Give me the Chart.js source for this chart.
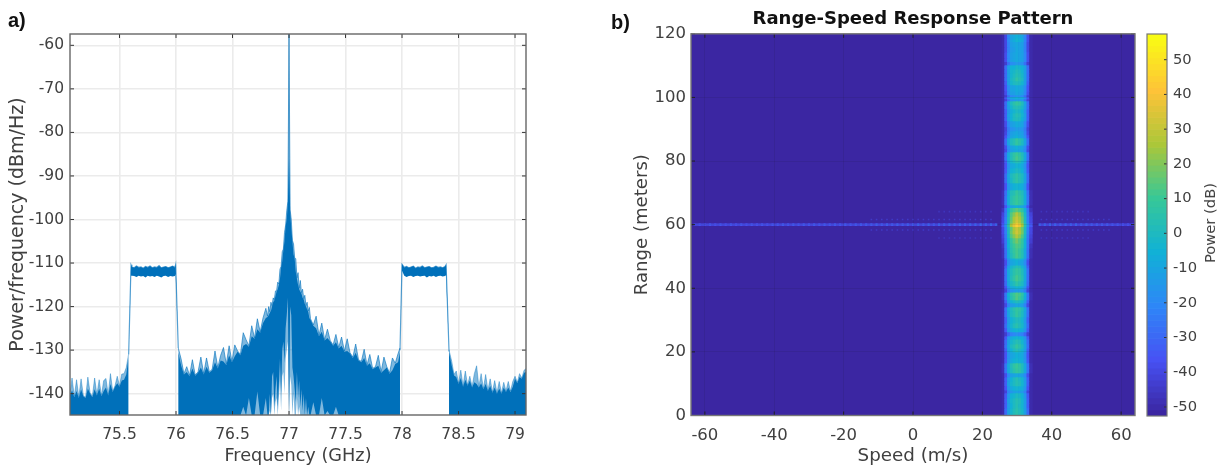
<!DOCTYPE html>
<html><head><meta charset="utf-8">
<style>
html,body{margin:0;padding:0;background:#fff;width:1227px;height:468px;overflow:hidden}
canvas{position:absolute;top:0;filter:blur(.55px)}
.t{position:absolute;white-space:nowrap;color:#111;font-family:"Liberation Sans",sans-serif;font-weight:bold;font-size:20px;line-height:20px}
#pw{color:#404040;font-family:"DejaVu Sans",sans-serif;font-weight:normal;font-size:14.7px;transform:translate(-50%,-50%) rotate(-90deg);left:1210px;top:223px;filter:blur(.4px)}
</style>
<script src="https://cdn.jsdelivr.net/npm/chart.js@4/dist/chart.umd.js"></script>
</head><body>
<canvas id="ca" width="560" height="468" style="left:0;width:560px;height:468px"></canvas>
<canvas id="cb" width="545" height="468" style="left:600px;width:545px;height:468px"></canvas>
<canvas id="cc" width="87" height="468" style="left:1140px;width:87px;height:468px"></canvas>
<div class="t" style="left:8px;top:10px">a)</div>
<div class="t" style="left:611px;top:12px">b)</div>
<div class="t" id="pw">Power (dB)</div>
<script>
// ---------- Panel a: spectrum envelope ----------
const freqTicks=[75.5,76,76.5,77,77.5,78,78.5,79];
const psdTicks=[-60,-70,-80,-90,-100,-110,-120,-130,-140];

const noiseAFreq=[75.06,75.08,75.1,75.12,75.14,75.16,75.18,75.2,75.22,75.24,75.26,75.28,75.3,75.32,75.34,75.36,75.38,75.4,75.42,75.44,75.46,75.48,75.5,75.52,75.54,75.56,75.58];
const noiseAPeak=[-140.3,-136.4,-140.6,-136.8,-140.8,-136.6,-140.4,-140.8,-136.2,-139.8,-140.6,-136.4,-140.2,-136.8,-140.4,-137,-136.5,-140.2,-135.4,-139.4,-138.2,-136,-138.2,-135.5,-135.4,-134,-131];
const noiseACore=[-140.5,-139.2,-140.8,-139.4,-141,-139,-140.6,-141,-138.8,-140,-140.8,-139,-140.4,-138.8,-140.6,-139.4,-138.6,-140.4,-137.8,-139.6,-138.4,-137.6,-138.4,-137,-136.8,-135.6,-131.5];

const bandAFreq=[75.581,75.602,75.61,75.63,75.65,75.67,75.69,75.71,75.73,75.75,75.77,75.79,75.81,75.83,75.85,75.87,75.89,75.91,75.93,75.95,75.97,75.99,75.997,76.02];
const bandAHigh=[-131,-110.4,-110.9,-111.1,-110.7,-111,-110.9,-111.2,-110.8,-111,-110.7,-111.1,-110.9,-111,-110.6,-111.1,-110.9,-110.8,-111.1,-110.9,-110.7,-111,-110.3,-129.5];
const bandALow=[-131,-112,-112.9,-113,-113.2,-112.9,-113.1,-113,-113.3,-112.9,-113.1,-113,-113.2,-112.9,-113.1,-113.3,-113,-112.9,-113.2,-113,-113.1,-113,-112.5,-129.5];

const centerFreq=[
76.02,76.045,76.07,76.095,76.12,76.145,76.17,76.195,76.22,76.245,
76.27,76.295,76.32,76.345,76.37,76.395,76.42,76.445,76.47,76.495,
76.52,76.545,76.57,76.595,76.62,76.645,76.67,76.695,76.72,76.745,
76.77,76.795,
76.81,76.82,76.83,76.84,76.85,76.86,76.87,76.88,76.89,76.9,
76.91,76.92,76.93,76.94,76.95,76.96,76.97,76.98,76.99,77,
77.01,77.02,77.03,77.04,77.05,77.06,77.07,77.08,77.09,77.1,
77.11,77.12,77.13,77.14,77.15,77.16,77.17,77.18,77.19,
77.215,77.24,77.265,77.29,77.315,77.34,77.365,77.39,77.415,77.44,
77.465,77.49,77.515,77.54,77.565,77.59,77.615,77.64,77.665,77.69,
77.715,77.74,77.765,77.79,77.815,77.84,77.865,77.89,77.915,77.94,
77.965,77.982];
const centerPeak=[
-129.5,-132,-135.4,-133.8,-135.8,-132.2,-135.7,-135,-131.6,-135.4,
-131.8,-135,-134.4,-130.2,-134,-131.2,-129.4,-133.2,-129,-132.6,
-128.8,-130.2,-131,-126,-127.6,-129,-124.4,-127.2,-122.8,-125.8,
-122.6,-120.4,
-122.2,-120,-121.2,-119,-119.8,-118,-118.4,-116.4,-116.4,-114.4,
-114.8,-111.4,-110.8,-107.4,-106.8,-103,-101.3,-98,-95.8,-57.4,
-97.8,-100,-104.8,-105.6,-108.8,-109,-113.4,-112.2,-115.8,-114,
-116.8,-116,-118.2,-117.4,-119.8,-119,-121,-120.2,-122.8,
-124.2,-122.2,-126.6,-123.8,-127.6,-125.2,-127.8,-128.8,-126.4,-129.4,
-127,-130.2,-127.4,-130.6,-131.6,-128.6,-132.2,-132.6,-129.8,-133.4,
-131,-134.2,-133.8,-131.2,-135,-131.6,-133.8,-135.2,-131.8,-133,
-130.8,-129.5];
const centerCore=[
-130.5,-133.5,-135.6,-135,-136,-134.2,-135.9,-135.2,-134,-135.6,
-133.8,-135.2,-134.6,-132.8,-134.2,-132.4,-132.6,-133.4,-131.2,-132.8,
-131.4,-130.4,-131.2,-129,-128.6,-129.2,-126.8,-127.4,-125.2,-126,
-123.8,-122.6,
-122.4,-122,-121.4,-121,-120,-119,-118.6,-117.6,-116.6,-116,
-115,-113.6,-111,-109.6,-107,-105,-101.5,-100,-96,-86,
-98,-102,-105,-108,-109,-112,-113.6,-115,-116,-116.6,
-117,-118,-118.4,-119.4,-120,-120.6,-121.2,-122.6,-123,
-124.4,-125,-126.8,-125.8,-127.8,-127.2,-128,-129,-128.2,-129.6,
-129,-130.4,-130.2,-130.8,-131.8,-130.6,-132.4,-132.8,-131.8,-133.6,
-133,-134.4,-134,-133.6,-135.2,-134.6,-134,-135.4,-134.6,-133.2,
-132.8,-130.5];
const centerCoreFloor=[
-145,-145,-145,-145,-145,-145,-145,-145,-145,-145,
-145,-145,-145,-145,-145,-145,-145,-145,-145,-145,
-145,-145,-145,-143,-145,-141,-145,-145,-139.5,-145,
-145,-141,
-145,-145,-140,-145,-136,-135,-143,-139,-136,-143,
-138,-132,-140,-130,-128,-133,-125,-122,-118,-145,
-120,-122,-134,-136,-139,-142,-135,-141,-137,-143,
-139,-144,-140,-145,-141,-145,-143,-145,-145,
-142,-145,-145,-141,-145,-144,-145,-145,-143,-145,
-145,-145,-145,-145,-145,-145,-145,-145,-145,-145,
-145,-145,-145,-145,-145,-145,-145,-145,-145,-145,
-145,-145];
const centerLightFloor=[
-145,-145,-145,-145,-145,-145,-145,-145,-145,-145,
-145,-145,-145,-145,-145,-145,-145,-145,-145,-145,
-145,-145,-145,-145,-145,-145,-145,-145,-145,-145,
-145,-145,
-145,-145,-144,-145,-141,-140,-145,-142,-141,-145,
-141,-137,-144,-136,-135,-140,-132,-130,-128,-145,
-136,-138,-145,-140,-145,-145,-141,-145,-143,-145,
-145,-145,-145,-145,-145,-145,-145,-145,-145,
-145,-145,-145,-145,-145,-145,-145,-145,-145,-145,
-145,-145,-145,-145,-145,-145,-145,-145,-145,-145,
-145,-145,-145,-145,-145,-145,-145,-145,-145,-145,
-145,-145];

const bandBFreq=[77.982,78,78.02,78.04,78.06,78.08,78.1,78.12,78.14,78.16,78.18,78.2,78.22,78.24,78.26,78.28,78.3,78.32,78.34,78.36,78.38,78.39,78.416];
const bandBHigh=[-130,-110.3,-111,-110.8,-111.1,-110.9,-110.7,-111.2,-110.9,-111,-110.7,-111.1,-110.9,-110.8,-111.1,-111,-110.7,-111,-110.9,-111.1,-110.8,-110.4,-130.3];
const bandBLow=[-130,-111.8,-112.9,-113.2,-113,-112.9,-113.2,-113,-112.9,-113.1,-113,-112.9,-113.3,-113,-113.1,-112.9,-113.2,-113,-112.9,-113.1,-113,-112.8,-130.3];

const noiseBFreq=[78.416,78.44,78.46,78.48,78.5,78.52,78.54,78.56,78.58,78.6,78.62,78.64,78.66,78.68,78.7,78.72,78.74,78.76,78.78,78.8,78.82,78.84,78.86,78.88,78.9,78.92,78.94,78.96,78.98,79,79.02,79.04,79.06,79.08,79.1];
const noiseBPeak=[-130,-132.6,-135.6,-134.8,-137.6,-134.6,-138.2,-134.8,-138,-136,-138.4,-135.4,-133.6,-138.4,-135.4,-138.8,-135.6,-139.2,-136.6,-139.6,-137,-139.8,-137.2,-139.8,-137.4,-139.4,-137.2,-139.4,-137.2,-136,-137.4,-135.4,-136.4,-134.6,-134.2];
const noiseBCore=[-130.5,-133.6,-135.8,-136.2,-137.8,-136.4,-138.4,-136.8,-138.2,-137,-138.6,-137.4,-137.8,-138.6,-137.6,-139,-137.8,-139.4,-138.2,-139.8,-138.6,-140,-138.8,-140,-138.6,-139.6,-138.6,-139.6,-138.4,-136.6,-137.6,-136.2,-136.6,-135.2,-135];

// ---------- Panel b: range-speed map ----------
const speedTicks=[-60,-40,-20,0,20,40,60];
const rangeTicks=[0,20,40,60,80,100,120];
const speedColumns=[26,26.8,27.6,28.4,29.2,30,30.8,31.6,32.4,33.2,34];
const rangeEdges=[120,118.7,117.5,115.9,114.3,112.4,111.2,110.2,108.9,107.7,106.4,105.2,103.9,102,100.8,100.2,99.5,98.9,97.6,96.4,95.1,93.9,92.6,90.7,89.5,88.2,87.3,86.4,85,83.8,82.9,81.6,80.3,79.4,77.8,76.3,74.7,73.1,70.9,69.3,67.8,66.2,65.3,64,62.7,61.5,60.5,59.4,58.3,57.1,55.8,54.2,52.7,51.1,49.5,48.9,47.3,46.4,44.2,42.3,40.7,39.8,38.8,37.6,36.3,35.4,34.1,32.9,31,29.1,27.5,26.3,25,24,22.5,21.2,20,18.1,16.5,14.9,13.4,12.1,10.8,9.3,8,7.1,5.5,3.9,2.4,0];
const powerMatrix=[
[-50,-40,-21,-11,-8,-5,-7,-10,-21,-38,-50],
[-50,-40,-20,-10,-7,-4,-6,-9,-20,-38,-50],
[-50,-40,-22,-13,-11,-8,-10,-12,-22,-40,-50],
[-50,-40,-22,-14,-12,-9,-11,-13,-22,-40,-50],
[-50,-38,-21,-13,-11,-8,-10,-12,-21,-38,-50],
[-50,-38,-21,-13,-11,-8,-10,-12,-21,-38,-50],
[-50,-44,-27,-19,-17,-14,-16,-18,-27,-44,-50],
[-50,-30,-13,-6,-5,-2,-4,-5,-13,-30,-50],
[-50,-30,-12,-4,-2,2,-1,-3,-12,-30,-50],
[-50,-30,-12,-3,0,4,1,-2,-12,-30,-50],
[-50,-30,-12,-2,2,6,3,-1,-12,-30,-50],
[-50,-32,-13,-4,-1,2,0,-3,-13,-32,-50],
[-50,-36,-19,-11,-10,-7,-9,-10,-19,-36,-50],
[-50,-38,-21,-13,-12,-9,-11,-12,-21,-38,-50],
[-50,-44,-29,-21,-19,-16,-18,-20,-29,-44,-50],
[-50,-36,-19,-10,-9,-6,-8,-9,-19,-36,-50],
[-50,-42,-27,-17,-15,-12,-14,-16,-27,-42,-50],
[-50,-30,-11,0,5,9,6,1,-11,-30,-50],
[-50,-30,-12,-3,1,4,2,-2,-12,-30,-50],
[-50,-32,-15,-7,-3,0,-2,-6,-15,-32,-50],
[-50,-32,-13,-5,0,3,1,-4,-13,-32,-50],
[-50,-32,-14,-5,-1,2,0,-5,-14,-32,-50],
[-50,-38,-20,-12,-10,-7,-9,-11,-20,-38,-50],
[-50,-42,-25,-17,-15,-12,-14,-16,-25,-42,-50],
[-50,-40,-22,-13,-11,-8,-10,-12,-22,-40,-50],
[-50,-36,-19,-11,-9,-6,-8,-10,-19,-36,-50],
[-50,-30,-10,0,4,8,5,1,-10,-30,-50],
[-50,-30,-11,-1,4,8,5,0,-11,-30,-50],
[-50,-38,-19,-11,-9,-6,-8,-10,-19,-38,-50],
[-50,-40,-21,-13,-11,-8,-10,-12,-21,-40,-50],
[-50,-28,-9,1,6,10,7,2,-9,-28,-50],
[-50,-28,-9,2,7,11,8,3,-9,-28,-50],
[-50,-32,-13,-4,0,3,1,-3,-13,-32,-50],
[-50,-36,-17,-9,-7,-4,-6,-8,-17,-36,-50],
[-50,-34,-15,-6,-3,0,-2,-5,-15,-34,-50],
[-50,-30,-11,-1,3,7,4,0,-11,-30,-50],
[-50,-30,-11,-2,3,7,4,-1,-11,-30,-50],
[-50,-36,-16,-8,-6,-3,-5,-7,-16,-36,-50],
[-48,-28,-9,1,4,8,5,2,-9,-28,-48],
[-48,-26,-7,3,6,10,7,4,-7,-26,-48],
[-48,-26,-7,3,6,10,7,4,-7,-26,-48],
[-50,-36,-19,-11,-9,-6,-8,-10,-19,-36,-50],
[-46,-26,-5,6,11,16,12,7,-5,-26,-46],
[-42,-24,-2,13,21,27,22,14,-2,-24,-42],
[-40,-22,0,16,25,31,26,17,0,-22,-40],
[-40,-22,0,17,26,32,27,18,0,-22,-40],
[-34,-18,5,25,36,44,37,26,5,-18,-34],
[-40,-22,0,16,25,31,26,17,0,-22,-40],
[-40,-22,0,17,26,32,27,18,0,-22,-40],
[-42,-24,-2,13,21,27,22,14,-2,-24,-42],
[-44,-26,-5,7,13,18,14,8,-5,-26,-44],
[-46,-26,-6,5,10,14,11,6,-6,-26,-46],
[-48,-28,-8,3,8,12,9,4,-8,-28,-48],
[-48,-28,-8,2,7,11,8,3,-8,-28,-48],
[-50,-34,-16,-7,-5,-2,-4,-6,-16,-34,-50],
[-50,-38,-19,-11,-9,-6,-8,-10,-19,-38,-50],
[-50,-32,-13,-4,0,3,1,-3,-13,-32,-50],
[-50,-28,-9,0,5,9,6,1,-9,-28,-50],
[-50,-28,-8,2,7,11,8,3,-8,-28,-50],
[-50,-30,-11,-2,2,6,3,-1,-11,-30,-50],
[-50,-36,-17,-9,-7,-4,-6,-8,-17,-36,-50],
[-50,-42,-25,-17,-15,-12,-14,-16,-25,-42,-50],
[-48,-26,-6,5,10,14,11,6,-6,-26,-48],
[-48,-26,-7,4,9,13,10,5,-7,-26,-48],
[-50,-32,-14,-5,-2,1,-1,-4,-14,-32,-50],
[-50,-40,-22,-14,-12,-9,-11,-13,-22,-40,-50],
[-50,-28,-9,0,5,9,6,1,-9,-28,-50],
[-50,-28,-10,-1,4,8,5,0,-10,-28,-50],
[-50,-32,-14,-5,-2,1,-1,-4,-14,-32,-50],
[-50,-30,-12,-3,1,5,2,-2,-12,-30,-50],
[-50,-34,-16,-8,-6,-3,-5,-7,-16,-34,-50],
[-50,-44,-31,-23,-21,-18,-20,-22,-31,-44,-50],
[-50,-34,-16,-8,-6,-3,-5,-7,-16,-34,-50],
[-50,-30,-12,-4,0,4,1,-3,-12,-30,-50],
[-50,-28,-10,-1,4,8,5,0,-10,-28,-50],
[-50,-32,-13,-5,-1,3,0,-4,-13,-32,-50],
[-50,-36,-18,-10,-8,-5,-7,-9,-18,-36,-50],
[-50,-34,-16,-8,-6,-3,-5,-7,-16,-34,-50],
[-48,-26,-8,1,6,10,7,2,-8,-26,-48],
[-48,-26,-9,0,5,9,6,1,-9,-26,-48],
[-50,-38,-21,-13,-11,-8,-10,-12,-21,-38,-50],
[-50,-32,-14,-5,-1,3,0,-4,-14,-32,-50],
[-50,-32,-13,-4,0,4,1,-3,-13,-32,-50],
[-50,-36,-16,-8,-6,-3,-5,-7,-16,-36,-50],
[-50,-42,-23,-15,-13,-10,-12,-14,-23,-42,-50],
[-50,-34,-15,-6,-3,0,-2,-5,-15,-34,-50],
[-50,-32,-13,-4,0,4,1,-3,-13,-32,-50],
[-50,-32,-14,-5,-1,3,0,-4,-14,-32,-50],
[-50,-30,-12,-3,1,5,2,-2,-12,-30,-50]];

const targetRange=60;
const ridgeLeftSpeeds=[-63,-61.5,-60,-58.5,-57,-55.5,-54,-52.5,-51,-49.5,-48,-46.5,-45,-43.5,-42,-40.5,-39,-37.5,-36,-34.5,-33,-31.5,-30,-28.5,-27,-25.5,-24,-22.5,-21,-19.5,-18,-16.5,-15,-13.5,-12,-10.5,-9,-7.5,-6,-4.5,-3,-1.5,0,1.5,3,4.5,6,7.5,9,10.5,12,13.5,15,16.5,18,19.5,21,22.5,24];
const ridgeLeftPower=[-38,-36,-38,-35,-37,-35,-37,-35,-37,-34,-36,-34,-36,-34,-36,-34,-35,-33,-35,-33,-35,-33,-35,-33,-34,-33,-34,-32,-34,-32,-34,-32,-33,-32,-33,-31,-33,-31,-33,-31,-32,-31,-32,-30,-32,-30,-32,-30,-31,-30,-31,-29,-31,-29,-30,-28,-30,-28,-30];
const ridgeRightSpeeds=[36.5,38,39.5,41,42.5,44,45.5,47,48.5,50,51.5,53,54.5,56,57.5,59,60.5,62,63.5];
const ridgeRightPower=[-30,-29,-30,-29,-31,-30,-31,-30,-32,-31,-32,-32,-33,-33,-34,-35,-36,-37,-38];
const lobeInnerSpeeds=[-12,-10.5,-9,-7.5,-6,-4.5,-3,-1.5,0,1.5,3,4.5,6,7.5,9,10.5,12,13.5,15,16.5,18,19.5,21,22.5,37,38.5,40,41.5,43,44.5,46,47.5,49,50.5,52,53.5,55,56.5];
const lobeInnerRanges=[61.6,58.3];
const lobeOuterSpeeds=[7.5,9,10.5,12,13.5,15,16.5,18,19.5,21,22.5,37,38.5,40,41.5,43,44.5,46,47.5,49,50.5];
const lobeOuterRanges=[64.1,55.8];
const lobePower=[-45,-46];

// ---------- Colour bar ----------
const powerTicks=[50,40,30,20,10,0,-10,-20,-30,-40,-50];
const colorbarEdges=[-52.6,-50.88,-49.16,-47.44,-45.72,-44.01,-42.29,-40.57,-38.85,-37.13,-35.41,-33.69,-31.97,-30.26,-28.54,-26.82,-25.1,-23.38,-21.66,-19.94,-18.22,-16.51,-14.79,-13.07,-11.35,-9.63,-7.91,-6.19,-4.47,-2.76,-1.04,0.68,2.4,4.12,5.84,7.56,9.28,10.99,12.71,14.43,16.15,17.87,19.59,21.31,23.03,24.74,26.46,28.18,29.9,31.62,33.34,35.06,36.78,38.49,40.21,41.93,43.65,45.37,47.09,48.81,50.53,52.24,53.96,55.68,57.4];
const colorStops=[[59,38,162],[71,82,244],[45,135,247],[17,177,214],[55,200,151],[171,199,57],[254,195,56],[249,251,20]];

// ---------- Helpers ----------
const TEXT='#404040', FONT='"DejaVu Sans",sans-serif';
function colour(db){
  const levels=64, lo=-52.6, hi=57.4;
  let t=Math.floor((db-lo)/(hi-lo)*levels)/(levels-1);
  t=Math.max(0,Math.min(1,t));
  const p=t*(colorStops.length-1), i=Math.min(colorStops.length-2,Math.floor(p)), f=p-i;
  const c=colorStops[i].map((v,k)=>Math.round(v+(colorStops[i+1][k]-v)*f));
  return `rgb(${c[0]},${c[1]},${c[2]})`;
}
const pts=(xs,ys)=>xs.map((x,i)=>({x,y:ys[i]}));
const fixed=(list)=>function(axis){axis.ticks=list.map(v=>({value:v}));};
const frame={id:'frame',afterDraw(ch,a,o){
  const {ctx,chartArea:r}=ch;
  ctx.save();
  const tick=(x0,y0,x1,y1)=>{ctx.beginPath();ctx.moveTo(x0,y0);ctx.lineTo(x1,y1);ctx.stroke();};
  ctx.strokeStyle=o.tick||'#333';ctx.lineWidth=1;
  const L=o.len||4;
  if(ch.scales.x&&ch.scales.x.options.display!==false)ch.scales.x.ticks.forEach((t,i)=>{
    const p=ch.scales.x.getPixelForTick(i);
    tick(p,r.bottom,p,r.bottom-L);tick(p,r.top,p,r.top+L);});
  ch.scales.y.ticks.forEach((t,i)=>{
    const p=ch.scales.y.getPixelForTick(i);
    if(!o.rightOnly)tick(r.left,p,r.left+L,p);
    tick(r.right,p,r.right-L,p);});
  ctx.strokeStyle=o.color||'#666';ctx.lineWidth=o.width||1.4;
  ctx.strokeRect(r.left,r.top,r.right-r.left,r.bottom-r.top);
  ctx.restore();
}};
const areaFill={id:'areaFill',beforeDatasetsDraw(ch,a,o){
  const {ctx,chartArea:r}=ch;
  ctx.save();ctx.fillStyle=o.color;ctx.fillRect(r.left,r.top,r.right-r.left,r.bottom-r.top);ctx.restore();
}};
Chart.defaults.animation=false;
Chart.defaults.responsive=false;
Chart.defaults.font.family=FONT;
Chart.defaults.color=TEXT;
const quiet={legend:{display:false},tooltip:{enabled:false}};

// ---------- Chart a ----------
const SOLID='#0070ba', LIGHT='rgba(0,114,189,.5)';
const base={pointRadius:0,tension:0,borderWidth:0,borderColor:'transparent',backgroundColor:'transparent',fill:false};
new Chart(document.getElementById('ca'),{
  type:'line',
  data:{datasets:[
    {...base,data:pts(noiseAFreq,noiseAPeak),fill:'start',backgroundColor:LIGHT,borderColor:LIGHT,borderWidth:.8,order:3},
    {...base,data:pts(noiseAFreq,noiseACore),fill:'start',backgroundColor:SOLID,order:1},
    {...base,data:pts(bandAFreq,bandALow),order:5},
    {...base,data:pts(bandAFreq,bandAHigh),fill:2,backgroundColor:SOLID,borderColor:'rgba(0,114,189,.65)',borderWidth:1.2,order:1},
    {...base,data:pts(centerFreq,centerLightFloor),order:5},
    {...base,data:pts(centerFreq,centerPeak),fill:4,backgroundColor:LIGHT,borderColor:'rgba(0,114,189,.6)',borderWidth:1,order:3},
    {...base,data:pts(centerFreq,centerCoreFloor),order:5},
    {...base,data:pts(centerFreq,centerCore),fill:6,backgroundColor:SOLID,order:1},
    {...base,data:pts(bandBFreq,bandBLow),order:5},
    {...base,data:pts(bandBFreq,bandBHigh),fill:8,backgroundColor:SOLID,borderColor:'rgba(0,114,189,.65)',borderWidth:1.2,order:1},
    {...base,data:pts(noiseBFreq,noiseBPeak),fill:'start',backgroundColor:LIGHT,borderColor:LIGHT,borderWidth:.8,order:3},
    {...base,data:pts(noiseBFreq,noiseBCore),fill:'start',backgroundColor:SOLID,order:1}
  ]},
  options:{
    layout:{padding:{left:7,top:34,right:34,bottom:1}},
    plugins:{...quiet,frame:{color:'#666',width:1.4}},
    scales:{
      x:{type:'linear',min:75.062,max:79.097,afterBuildTicks:fixed(freqTicks),
        afterFit(a){a.height=52;},
        grid:{color:'#ebebeb',lineWidth:1.6,drawTicks:false},border:{display:false},
        ticks:{autoSkip:false,maxRotation:0,padding:11,font:{size:15.5},callback:v=>String(v)},
        title:{display:true,text:'Frequency (GHz)',color:TEXT,font:{size:17.7},padding:{top:0,bottom:0}}},
      y:{type:'linear',min:-144.9,max:-57.4,afterBuildTicks:fixed(psdTicks),
        afterFit(a){a.width=63;},
        grid:{color:'#ebebeb',lineWidth:1.6,drawTicks:false},border:{display:false},
        ticks:{autoSkip:false,padding:6,font:{size:15.5},callback:v=>String(v)},
        title:{display:true,text:'Power/frequency (dBm/Hz)',color:TEXT,font:{size:19},padding:{top:0,bottom:0}}}
    }
  },
  plugins:[frame]
});

// ---------- Chart b ----------
const cellDatasets=powerMatrix.map((row,i)=>({
  type:'bar',grouped:false,borderWidth:0,barPercentage:1,categoryPercentage:1,
  data:speedColumns.map(s=>({x:s,y:[rangeEdges[i+1],rangeEdges[i]]})),
  backgroundColor:row.map(colour),order:2
}));
const ridge=(speeds,power)=>({
  type:'line',order:1,borderColor:colour(-38),borderWidth:2.2,tension:0,
  data:speeds.map(s=>({x:s,y:targetRange})),
  pointStyle:'rect',pointRadius:1.5,pointBorderWidth:0,pointBackgroundColor:power.map(colour)
});
const lobes=(speeds,range,db)=>({
  type:'line',order:1,showLine:false,
  data:speeds.map(s=>({x:s,y:range})),
  pointStyle:'rect',pointRadius:1.1,pointBorderWidth:0,pointBackgroundColor:colour(db)
});
new Chart(document.getElementById('cb'),{
  type:'bar',
  data:{datasets:[
    ...cellDatasets,
    ridge(ridgeLeftSpeeds,ridgeLeftPower),
    ridge(ridgeRightSpeeds,ridgeRightPower),
    lobes(lobeInnerSpeeds,lobeInnerRanges[0],lobePower[0]),
    lobes(lobeInnerSpeeds,lobeInnerRanges[1],lobePower[0]),
    lobes(lobeOuterSpeeds,lobeOuterRanges[0],lobePower[1]),
    lobes(lobeOuterSpeeds,lobeOuterRanges[1],lobePower[1])
  ]},
  options:{
    layout:{padding:{left:31,top:0,right:10,bottom:1}},
    plugins:{...quiet,
      areaFill:{color:'rgb(59,38,162)'},
      frame:{color:'#777',width:1.4,tick:'#222'},
      title:{display:true,text:'Range-Speed Response Pattern',color:'#111',fullSize:false,
        font:{size:18,weight:'bold'},padding:{top:9,bottom:3.2}}},
    scales:{
      x:{type:'linear',min:-64,max:64,offset:false,afterBuildTicks:fixed(speedTicks),
        afterFit(a){a.height=51.5;},
        grid:{offset:false,z:1,color:'rgba(20,20,20,.09)',lineWidth:1,drawTicks:false},border:{display:false},
        ticks:{autoSkip:false,maxRotation:0,padding:10,font:{size:16.5},callback:v=>String(v)},
        title:{display:true,text:'Speed (m/s)',color:TEXT,font:{size:18.3},padding:{top:0,bottom:0}}},
      y:{type:'linear',min:0,max:120,afterBuildTicks:fixed(rangeTicks),
        afterFit(a){a.width=60;},
        grid:{z:1,color:'rgba(20,20,20,.09)',lineWidth:1,drawTicks:false},border:{display:false},
        ticks:{autoSkip:false,padding:5,font:{size:16.5},callback:v=>String(v)},
        title:{display:true,text:'Range (meters)',color:TEXT,font:{size:18.1},padding:{top:0,bottom:0}}}
    }
  },
  plugins:[areaFill,frame]
});

// ---------- Colour bar ----------
new Chart(document.getElementById('cc'),{
  type:'bar',
  data:{datasets:[{
    grouped:false,borderWidth:0,barPercentage:1,categoryPercentage:1,
    data:colorbarEdges.slice(0,-1).map((e,i)=>({x:0,y:[e,colorbarEdges[i+1]]})),
    backgroundColor:colorbarEdges.slice(0,-1).map((e,i)=>colour((e+colorbarEdges[i+1])/2))
  }]},
  options:{
    layout:{padding:{left:7,top:34,right:0,bottom:52}},
    plugins:{...quiet,frame:{color:'#777',width:1.2,rightOnly:true,tick:'#333',len:3}},
    scales:{
      x:{type:'linear',min:-.5,max:.5,offset:false,display:false,grid:{offset:false}},
      y:{type:'linear',position:'right',min:-52.6,max:57.4,afterBuildTicks:fixed(powerTicks),
        afterFit(a){a.width=60;},
        grid:{display:false,drawTicks:false},border:{display:false},
        ticks:{autoSkip:false,padding:6,font:{size:14.7},callback:v=>String(v)}}
    }
  },
  plugins:[frame]
});
</script>
</body></html>
